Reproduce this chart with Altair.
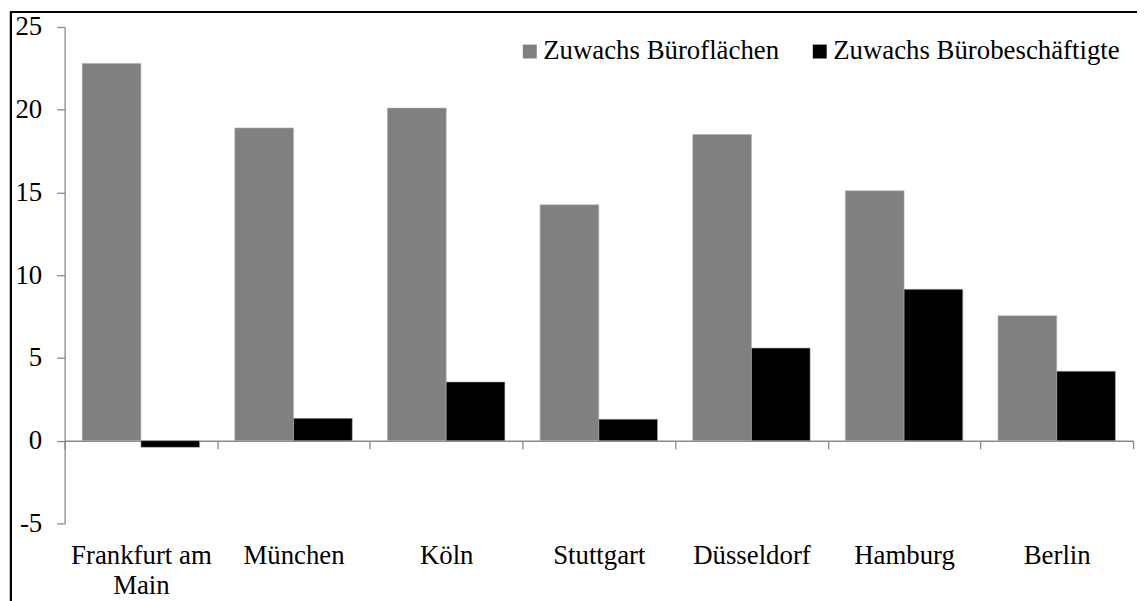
import altair as alt
import pandas as pd

cities = ["Frankfurt am Main", "München", "Köln", "Stuttgart", "Düsseldorf", "Hamburg", "Berlin"]
series = ["Zuwachs Büroflächen", "Zuwachs Bürobeschäftigte"]
flaechen = [22.8, 18.9, 20.1, 14.25, 18.5, 15.1, 7.55]
beschaeftigte = [-0.4, 1.35, 3.55, 1.3, 5.6, 9.15, 4.2]
y_ticks = [-5, 0, 5, 10, 15, 20, 25]

rows = []
for c, a, b in zip(cities, flaechen, beschaeftigte):
    rows.append({"Stadt": c, "Serie": series[0], "Wert": a})
    rows.append({"Stadt": c, "Serie": series[1], "Wert": b})
df = pd.DataFrame(rows)

FONT = "Liberation Serif, Times New Roman, DejaVu Serif, serif"
AXIS_GRAY = "#898989"
FS = 27

bars = alt.Chart(df).mark_bar(stroke="#b0b0b0", strokeWidth=0.6).encode(
    x=alt.X("Stadt:N", sort=cities, title=None,
            scale=alt.Scale(paddingInner=0, paddingOuter=0),
            axis=alt.Axis(orient="bottom", offset=-83.3, tickBand="extent",
                          domainColor=AXIS_GRAY, tickColor=AXIS_GRAY,
                          domainWidth=1.3, tickWidth=1.3,
                          tickSize=8, labelPadding=95, labelAngle=0,
                          labelFont=FONT, labelFontSize=FS, labelColor="black",
                          labelLineHeight=30,
                          labelExpr="datum.label == 'Frankfurt am Main' ? ['Frankfurt am', 'Main'] : datum.label")),
    xOffset=alt.XOffset("Serie:N", sort=series, scale=alt.Scale(paddingInner=0, paddingOuter=0.3)),
    y=alt.Y("Wert:Q", title=None,
            scale=alt.Scale(domain=[-5, 25], nice=False, zero=False),
            axis=alt.Axis(values=y_ticks, grid=False, domainColor=AXIS_GRAY,
                          tickColor=AXIS_GRAY, domainWidth=1.3, tickWidth=1.3,
                          tickSize=8, labelPadding=15, labelFont=FONT,
                          labelFontSize=FS, labelColor="black",
                          labelExpr="datum.value")),
    color=alt.Color("Serie:N", sort=series,
                    scale=alt.Scale(domain=series, range=["#808080", "#000000"]),
                    legend=alt.Legend(title=None, orient="none", legendX=455, legendY=11,
                                      direction="horizontal", columns=2,
                                      symbolType="square", symbolSize=196,
                                      symbolStrokeWidth=0, symbolOpacity=1,
                                      labelFont=FONT, labelFontSize=FS,
                                      labelColor="black", labelOffset=0,
                                      columnPadding=27, padding=0, labelLimit=400)),
)

frame = alt.Chart(df).mark_rect(fill=None, stroke="black", strokeWidth=2).encode(
    x=alt.value(-54), x2=alt.value(1200), y=alt.value(-15), y2=alt.value(700)
)

chart = alt.layer(frame, bars).properties(
    width=1076, height=500,
    autosize=alt.AutoSizeParams(type="none"),
    padding={"left": 57, "top": 17, "right": 4, "bottom": 76},
).configure_view(stroke=None)

chart.save("out.html", embed_options={"renderer": "svg", "actions": False})
